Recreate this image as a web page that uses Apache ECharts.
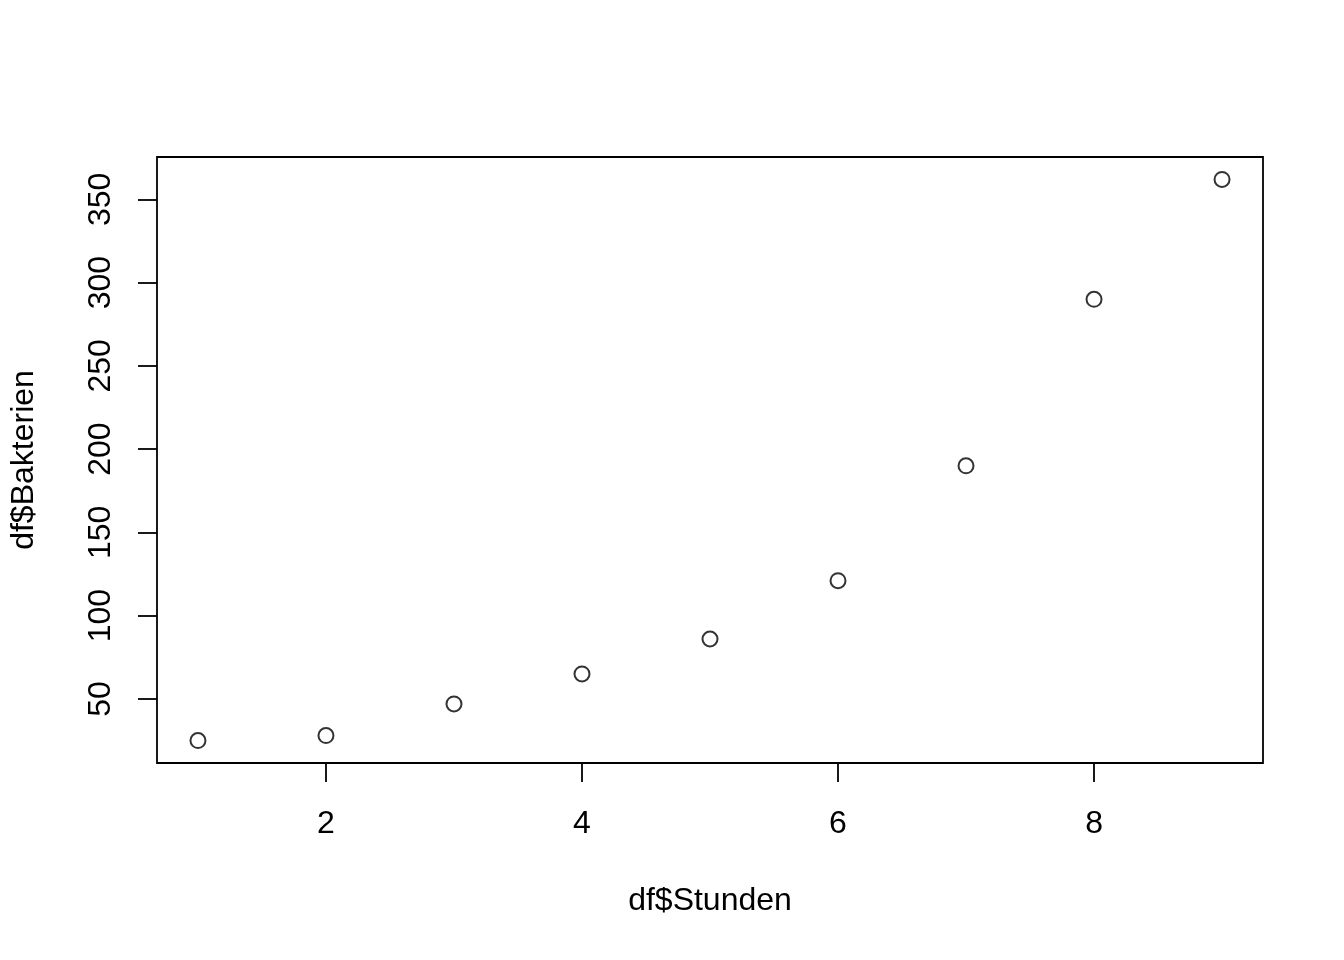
<!DOCTYPE html>
<html><head><meta charset="utf-8">
<script src="https://cdn.jsdelivr.net/npm/echarts@6/dist/echarts.min.js"></script>
<style>html,body{margin:0;padding:0;background:#fff}#c{width:1344px;height:960px}</style>
</head><body><div id="c"></div>
<script>
const stunden = [1, 2, 3, 4, 5, 6, 7, 8, 9];
const bakterien = [25, 28, 47, 65, 86, 121, 190, 290, 362];
const xTicks = [2, 4, 6, 8];
const yTicks = [50, 100, 150, 200, 250, 300, 350];

function pad(arr) {
  const lo = Math.min(...arr), hi = Math.max(...arr), r = hi - lo;
  return [lo - 0.04 * r, hi + 0.04 * r];
}
const [xmin, xmax] = pad(stunden);
const [ymin, ymax] = pad(bakterien);
const font = 'Liberation Sans, Arial, Helvetica, sans-serif';
const fs = 32;

const chart = echarts.init(document.getElementById('c'), null, {renderer: 'canvas'});
chart.setOption({
  animation: false,
  backgroundColor: '#fff',
  grid: {left: 157, right: 81, top: 157, bottom: 197, show: true, borderColor: '#000', borderWidth: 1.8, containLabel: false},
  xAxis: {
    type: 'value', min: xmin, max: xmax,
    name: 'df$Stunden', nameLocation: 'middle', nameGap: 122,
    nameTextStyle: {fontFamily: font, fontSize: fs, color: '#000'},
    axisLine: {show: false},
    splitLine: {show: false},
    axisTick: {show: true, customValues: xTicks, length: 19, inside: false, lineStyle: {color: '#000', width: 1.8}},
    axisLabel: {customValues: xTicks, margin: 45, fontFamily: font, fontSize: fs, color: '#000'}
  },
  yAxis: {
    type: 'value', min: ymin, max: ymax,
    name: 'df$Bakterien', nameLocation: 'middle', nameGap: 117, nameRotate: 90,
    nameTextStyle: {fontFamily: font, fontSize: fs, color: '#000'},
    axisLine: {show: false},
    splitLine: {show: false},
    axisTick: {show: true, customValues: yTicks, length: 19, inside: false, lineStyle: {color: '#000', width: 1.8}},
    axisLabel: {customValues: yTicks, margin: 40, rotate: 90, fontFamily: font, fontSize: fs, color: '#000', verticalAlign: 'bottom', align: 'center'}
  },
  series: [{
    type: 'scatter',
    data: stunden.map((s, i) => [s, bakterien[i]]),
    symbol: 'circle', symbolSize: 15,
    itemStyle: {color: 'rgba(255,255,255,0)', borderColor: '#000', borderWidth: 2}
  }]
});
</script></body></html>
